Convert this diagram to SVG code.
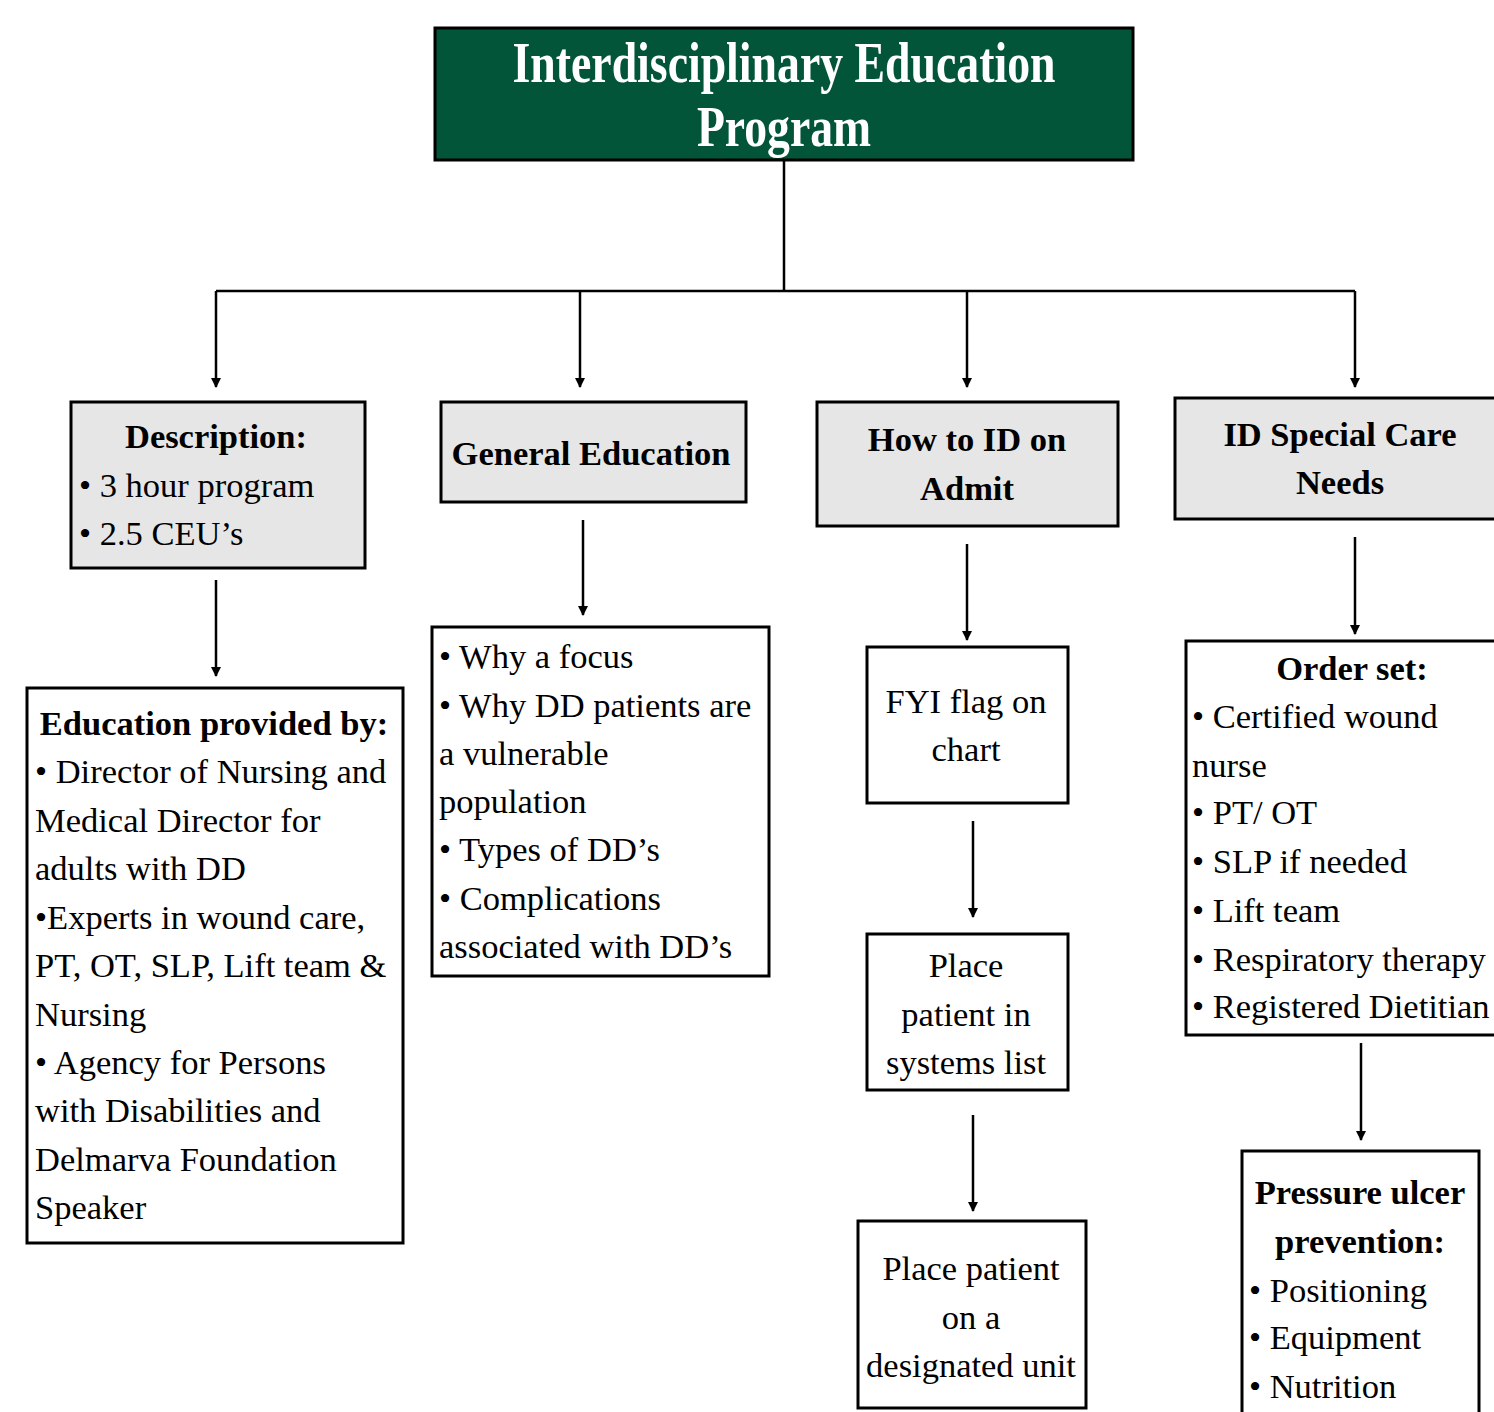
<svg xmlns="http://www.w3.org/2000/svg" width="1494" height="1412" viewBox="0 0 1494 1412">
<style>
.box{stroke:#000;stroke-width:3}
.gray{fill:#e6e6e6}
.white{fill:#fff}
.t{font-family:"Liberation Serif","Times New Roman",serif;font-size:34.5px;fill:#000}
.b{font-weight:bold}
.c{text-anchor:middle}
.title{font-family:"Liberation Serif","Times New Roman",serif;font-size:58px;font-weight:bold;fill:#fff;text-anchor:middle}
.conn{stroke:#000;stroke-width:2.5;fill:none}
</style>
<defs>
<marker id="ah" viewBox="0 0 10 10" refX="9" refY="5" markerWidth="4" markerHeight="4" orient="auto" markerUnits="strokeWidth">
<path d="M0,0 L10,5 L0,10 z" fill="#000"/>
</marker>
</defs>
<rect width="1494" height="1412" fill="#fff"/>

<g id="connectors">
<path class="conn" d="M784,160 V291 M216,291 H1355"/>
<path class="conn" marker-end="url(#ah)" d="M216,291 V387"/>
<path class="conn" marker-end="url(#ah)" d="M580,291 V387"/>
<path class="conn" marker-end="url(#ah)" d="M967,291 V387"/>
<path class="conn" marker-end="url(#ah)" d="M1355,291 V387"/>
<path class="conn" marker-end="url(#ah)" d="M216,580 V676"/>
<path class="conn" marker-end="url(#ah)" d="M583,520 V615"/>
<path class="conn" marker-end="url(#ah)" d="M967,544 V640"/>
<path class="conn" marker-end="url(#ah)" d="M973,821 V917"/>
<path class="conn" marker-end="url(#ah)" d="M973,1115 V1211"/>
<path class="conn" marker-end="url(#ah)" d="M1355,537 V634"/>
<path class="conn" marker-end="url(#ah)" d="M1361,1043 V1140"/>
</g>

<g id="title">
<rect class="box" x="435" y="28" width="698" height="132" fill="#03553a"/>
<text class="title" x="784" y="82" textLength="543" lengthAdjust="spacingAndGlyphs">Interdisciplinary Education</text>
<text class="title" x="784" y="146" textLength="174" lengthAdjust="spacingAndGlyphs">Program</text>
</g>

<g id="description">
<rect class="box gray" x="71" y="402" width="294" height="166"/>
<text class="t b c" x="216" y="448">Description:</text>
<text class="t" x="79" y="497">• 3 hour program</text>
<text class="t" x="79" y="545">• 2.5 CEU’s</text>
</g>

<g id="education-provided">
<rect class="box white" x="27" y="688" width="376" height="555"/>
<text class="t b c" x="214" y="735">Education provided by:</text>
<text class="t" x="35" y="783">• Director of Nursing and</text>
<text class="t" x="35" y="832">Medical Director for</text>
<text class="t" x="35" y="880">adults with DD</text>
<text class="t" x="35" y="929">•Experts in wound care,</text>
<text class="t" x="35" y="977">PT, OT, SLP, Lift team &amp;</text>
<text class="t" x="35" y="1026">Nursing</text>
<text class="t" x="35" y="1074">• Agency for Persons</text>
<text class="t" x="35" y="1122">with Disabilities and</text>
<text class="t" x="35" y="1171">Delmarva Foundation</text>
<text class="t" x="35" y="1219">Speaker</text>
</g>

<g id="general-education">
<rect class="box gray" x="441" y="402" width="305" height="100"/>
<text class="t b c" x="591" y="465">General Education</text>
</g>

<g id="general-topics">
<rect class="box white" x="432" y="627" width="337" height="349"/>
<text class="t" x="439" y="668">• Why a focus</text>
<text class="t" x="439" y="717">• Why DD patients are</text>
<text class="t" x="439" y="765">a vulnerable</text>
<text class="t" x="439" y="813">population</text>
<text class="t" x="439" y="861">• Types of DD’s</text>
<text class="t" x="439" y="910">• Complications</text>
<text class="t" x="439" y="958">associated with DD’s</text>
</g>

<g id="how-to-id">
<rect class="box gray" x="817" y="402" width="301" height="124"/>
<text class="t b c" x="967" y="451">How to ID on</text>
<text class="t b c" x="967" y="500">Admit</text>
</g>

<g id="fyi-flag">
<rect class="box white" x="867" y="647" width="201" height="156"/>
<text class="t c" x="966" y="713">FYI flag on</text>
<text class="t c" x="966" y="761">chart</text>
</g>

<g id="systems-list">
<rect class="box white" x="867" y="934" width="201" height="156"/>
<text class="t c" x="966" y="977">Place</text>
<text class="t c" x="966" y="1026">patient in</text>
<text class="t c" x="966" y="1074">systems list</text>
</g>

<g id="designated-unit">
<rect class="box white" x="858" y="1221" width="228" height="187"/>
<text class="t c" x="971" y="1280">Place patient</text>
<text class="t c" x="971" y="1329">on a</text>
<text class="t c" x="971" y="1377">designated unit</text>
</g>

<g id="special-care">
<rect class="box gray" x="1175" y="398" width="330" height="121"/>
<text class="t b c" x="1340" y="446">ID Special Care</text>
<text class="t b c" x="1340" y="494">Needs</text>
</g>

<g id="order-set">
<rect class="box white" x="1186" y="641" width="320" height="394"/>
<text class="t b c" x="1352" y="680">Order set:</text>
<text class="t" x="1192" y="728">• Certified wound</text>
<text class="t" x="1192" y="777">nurse</text>
<text class="t" x="1192" y="824">• PT/ OT</text>
<text class="t" x="1192" y="873">• SLP if needed</text>
<text class="t" x="1192" y="922">• Lift team</text>
<text class="t" x="1192" y="971">• Respiratory therapy</text>
<text class="t" x="1192" y="1018">• Registered Dietitian</text>
</g>

<g id="pressure-ulcer">
<rect class="box white" x="1242" y="1151" width="237" height="270"/>
<text class="t b c" x="1360" y="1204">Pressure ulcer</text>
<text class="t b c" x="1360" y="1253">prevention:</text>
<text class="t" x="1249" y="1302">• Positioning</text>
<text class="t" x="1249" y="1349">• Equipment</text>
<text class="t" x="1249" y="1398">• Nutrition</text>
</g>
</svg>
